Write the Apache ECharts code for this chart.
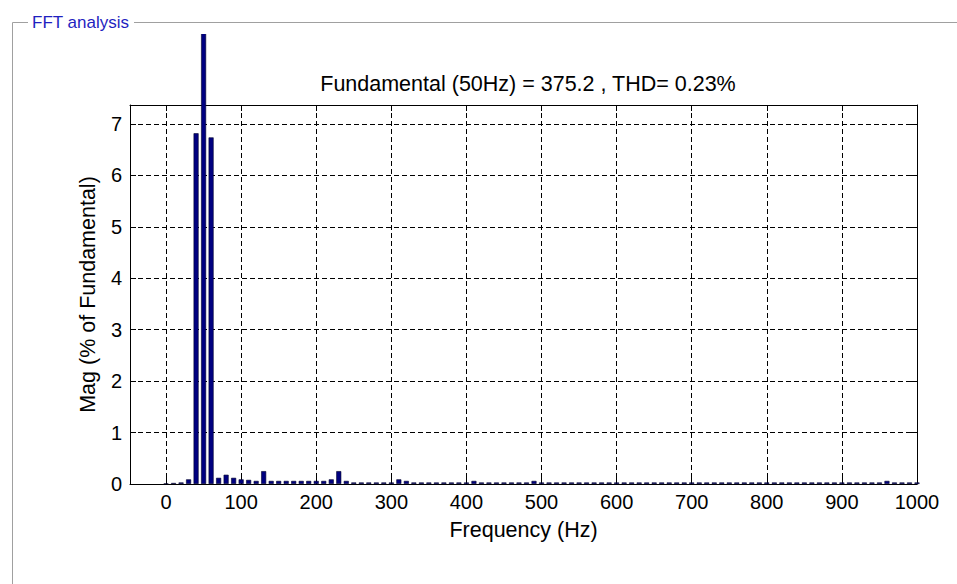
<!DOCTYPE html>
<html>
<head>
<meta charset="utf-8">
<script src="https://cdn.jsdelivr.net/npm/echarts@6/dist/echarts.min.js"></script>
<style>html,body{margin:0;padding:0;background:#fff}#c{width:957px;height:584px}</style>
</head>
<body>
<div id="c"></div>
<script>
const frequencies = [0,10,20,30,40,50,60,70,80,90,100,110,120,130,140,150,160,170,180,190,
  200,210,220,230,240,250,260,270,280,290,300,310,320,330,340,350,360,370,380,390,
  400,410,420,430,440,450,460,470,480,490,500,510,520,530,540,550,560,570,580,590,
  600,610,620,630,640,650,660,670,680,690,700,710,720,730,740,750,760,770,780,790,
  800,810,820,830,840,850,860,870,880,890,900,910,920,930,940,950,960,970,980,990,1000];
const magnitudes = [0.01,0.02,0.03,0.09,6.82,100,6.74,0.12,0.18,0.12,0.09,0.08,0.06,0.25,0.06,0.06,0.06,0.06,0.06,0.06,
  0.06,0.06,0.09,0.25,0.06,0.03,0.03,0.03,0.03,0.03,0.03,0.09,0.06,0.03,0.03,0.03,0.03,0.03,0.03,0.03,
  0.03,0.06,0.03,0.03,0.03,0.03,0.03,0.03,0.03,0.06,0.03,0.03,0.03,0.03,0.03,0.03,0.03,0.03,0.03,0.03,
  0.03,0.03,0.03,0.03,0.03,0.03,0.03,0.03,0.03,0.03,0.03,0.03,0.03,0.03,0.03,0.03,0.03,0.03,0.03,0.03,
  0.03,0.03,0.03,0.03,0.03,0.03,0.03,0.03,0.03,0.03,0.03,0.03,0.03,0.03,0.03,0.03,0.06,0.03,0.03,0.03,0.03];
const xTickValues = [0,100,200,300,400,500,600,700,800,900,1000];
const chartTitle = 'Fundamental (50Hz) = 375.2 , THD= 0.23%';
const xAxisTitle = 'Frequency (Hz)';
const yAxisTitle = 'Mag (% of Fundamental)';
const panelTitle = 'FFT analysis';

const FONT = '"Liberation Sans", Arial, Helvetica, sans-serif';
const dash = { type: [5, 3], color: '#000', width: 1 };

const chart = echarts.init(document.getElementById('c'), null, { renderer: 'svg' });
chart.setOption({
  animation: false,
  backgroundColor: '#fff',
  textStyle: { fontFamily: FONT },
  title: {
    text: chartTitle, left: 528, top: 73, textAlign: 'center', padding: 0,
    textStyle: { fontSize: 21.5, fontWeight: 'normal', color: '#000', fontFamily: FONT }
  },
  grid: { left: 130, right: 40, top: 105, bottom: 100 },
  xAxis: [{
    type: 'value', min: -48, max: 1000, position: 'bottom',
    axisLine: { show: true, onZero: false, lineStyle: { color: '#000', width: 1 } },
    axisTick: { show: true, inside: true, length: 6, customValues: xTickValues, lineStyle: { color: '#000' } },
    axisLabel: { customValues: xTickValues, color: '#000', fontSize: 20, margin: 8, fontFamily: FONT,
      formatter: v => String(v) },
    splitLine: { show: true, lineStyle: dash },
    name: xAxisTitle, nameLocation: 'middle', nameGap: 35,
    nameTextStyle: { fontSize: 21.5, color: '#000', fontFamily: FONT }
  }, {
    type: 'value', min: -48, max: 1000, position: 'top',
    axisLine: { show: true, onZero: false, lineStyle: { color: '#000', width: 1 } },
    axisTick: { show: true, inside: true, length: 6, customValues: xTickValues, lineStyle: { color: '#000' } },
    axisLabel: { show: false },
    splitLine: { show: false }
  }],
  yAxis: [{
    type: 'value', min: 0, max: 7.37, interval: 1, position: 'left',
    axisLine: { show: true, onZero: false, lineStyle: { color: '#000', width: 1 } },
    axisTick: { show: true, inside: true, length: 6, lineStyle: { color: '#000' } },
    axisLabel: { color: '#000', fontSize: 20, margin: 8, showMaxLabel: false, fontFamily: FONT },
    splitLine: { show: true, lineStyle: dash },
    name: yAxisTitle, nameLocation: 'middle', nameGap: 31, nameRotate: 90,
    nameTextStyle: { fontSize: 21.5, color: '#000', fontFamily: FONT }
  }, {
    type: 'value', min: 0, max: 7.37, interval: 1, position: 'right',
    axisLine: { show: true, onZero: false, lineStyle: { color: '#000', width: 1 } },
    axisTick: { show: true, inside: true, length: 6, lineStyle: { color: '#000' } },
    axisLabel: { show: false },
    splitLine: { show: false }
  }],
  series: [{
    type: 'bar',
    xAxisIndex: 0, yAxisIndex: 0,
    data: frequencies.map((f, i) => [f, magnitudes[i]]),
    barWidth: 5,
    clip: false,
    itemStyle: { color: '#000080', borderColor: '#00002a', borderWidth: 0.6 },
    z: 3
  }],
  graphic: [
    { type: 'rect', z: 100, shape: { x: 0, y: 0, width: 957, height: 34 }, style: { fill: '#fff' } },
    { type: 'line', z: 101, shape: { x1: 12.5, y1: 22.5, x2: 28, y2: 22.5 }, style: { stroke: '#a0a0a0', lineWidth: 1 } },
    { type: 'line', z: 101, shape: { x1: 134, y1: 22.5, x2: 957, y2: 22.5 }, style: { stroke: '#a0a0a0', lineWidth: 1 } },
    { type: 'line', z: 101, shape: { x1: 12.5, y1: 22.5, x2: 12.5, y2: 584 }, style: { stroke: '#a0a0a0', lineWidth: 1 } },
    { type: 'text', z: 102, x: 32, y: 22, style: { text: panelTitle, fill: '#1f1fbf', font: '17px ' + FONT, textVerticalAlign: 'middle' } }
  ]
});
</script>
</body>
</html>
